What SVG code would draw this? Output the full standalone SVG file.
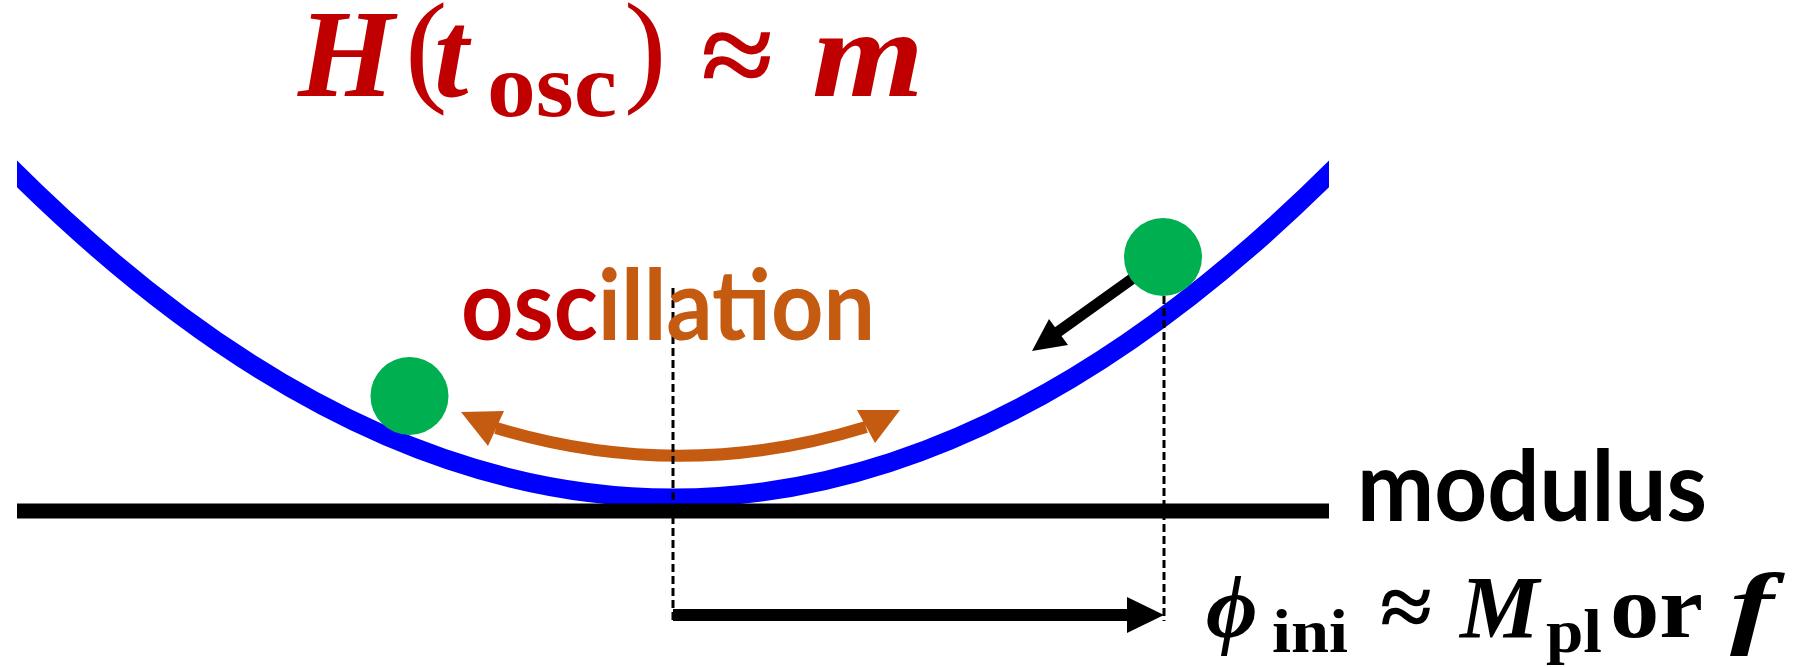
<svg xmlns="http://www.w3.org/2000/svg" width="1812" height="667" viewBox="0 0 1812 667">
<style>
.sans{font-family:Lato,"Open Sans","Liberation Sans",sans-serif;font-weight:bold;}
.ser{font-family:"Liberation Serif","DejaVu Serif",serif;font-weight:bold;}
.reg{font-weight:normal;}
.it{font-style:italic;}
.red{fill:#C00000;}
.org{fill:#C55A11;}
.blk{fill:#000;}
.dash{stroke:#000;stroke-width:3;stroke-dasharray:8 4;fill:none;}
.ball{fill:#00B050;}
</style>
<defs>
<clipPath id="clipCurve"><rect x="17" y="0" width="1312" height="667"/></clipPath>
</defs>
<rect width="1812" height="667" fill="#fff"/>

<g id="potential">
<path d="M0,157 Q673,839 1346,157" fill="none" stroke="#0000FF" stroke-width="19" clip-path="url(#clipCurve)"/>
</g>

<g id="axis">
<line x1="17" y1="511" x2="1329" y2="511" stroke="#000" stroke-width="15"/>
</g>

<g id="connectors">
<line x1="1150" y1="266" x2="1055" y2="334" stroke="#000" stroke-width="11"/>
<polygon points="1032,351 1049,319 1068,345" fill="#000"/>
<path d="M496,428 Q681,484 866,427" fill="none" stroke="#C55A11" stroke-width="12"/>
<polygon points="461,412 504,411 488,446" fill="#C55A11"/>
<polygon points="900,410 857,410 875,443" fill="#C55A11"/>
<line x1="673" y1="615" x2="1132" y2="615" stroke="#000" stroke-width="12"/>
<polygon points="1164,615 1127,597 1127,633" fill="#000"/>
</g>

<g id="ball-right"><circle class="ball" cx="1163" cy="257" r="39"/></g>
<g id="ball-left"><circle class="ball" cx="409.5" cy="396" r="39"/></g>

<g id="guides">
<line class="dash" x1="673" y1="288" x2="673" y2="621"/>
<line class="dash" x1="1164" y1="296" x2="1164" y2="621"/>
</g>

<g id="title" class="red">
<text class="ser it" x="298" y="96" font-size="124">H</text>
<text class="ser reg" transform="translate(405,89) scale(1.08,1.06)" x="0" y="0" font-size="118">(</text>
<text class="ser it" x="434" y="96" font-size="124">t</text>
<text class="ser" x="487" y="116" font-size="90" textLength="130" lengthAdjust="spacingAndGlyphs">osc</text>
<text class="ser reg" transform="translate(624,89) scale(1.08,1.06)" x="0" y="0" font-size="118">)</text>
<text class="ser" x="701" y="95" font-size="118" textLength="72" lengthAdjust="spacingAndGlyphs">≈</text>
<text class="ser it" x="812" y="96" font-size="124" textLength="112" lengthAdjust="spacingAndGlyphs">m</text>
</g>

<g id="label-oscillation">
<text class="sans" x="461" y="340" font-size="97" textLength="414" lengthAdjust="spacingAndGlyphs"><tspan class="red">osc</tspan><tspan class="org">illation</tspan></text>
</g>

<g id="label-modulus">
<text class="sans blk" x="1357" y="521" font-size="97" textLength="350" lengthAdjust="spacingAndGlyphs">modulus</text>
</g>

<g id="label-phi" class="blk">
<text class="ser it" x="1206" y="637" font-size="89">ϕ</text>
<text class="ser" x="1272" y="652" font-size="62" textLength="76" lengthAdjust="spacingAndGlyphs">ini</text>
<text class="ser" x="1380" y="637" font-size="89" textLength="52" lengthAdjust="spacingAndGlyphs">≈</text>
<text class="ser it" x="1460" y="637" font-size="89">M</text>
<text class="ser" x="1546" y="652" font-size="62" textLength="56" lengthAdjust="spacingAndGlyphs">pl</text>
<text class="ser" x="1610" y="637" font-size="89" textLength="93" lengthAdjust="spacingAndGlyphs">or</text>
<text class="ser it" x="1730" y="637" font-size="92" textLength="44" lengthAdjust="spacingAndGlyphs">f</text>
</g>
</svg>
